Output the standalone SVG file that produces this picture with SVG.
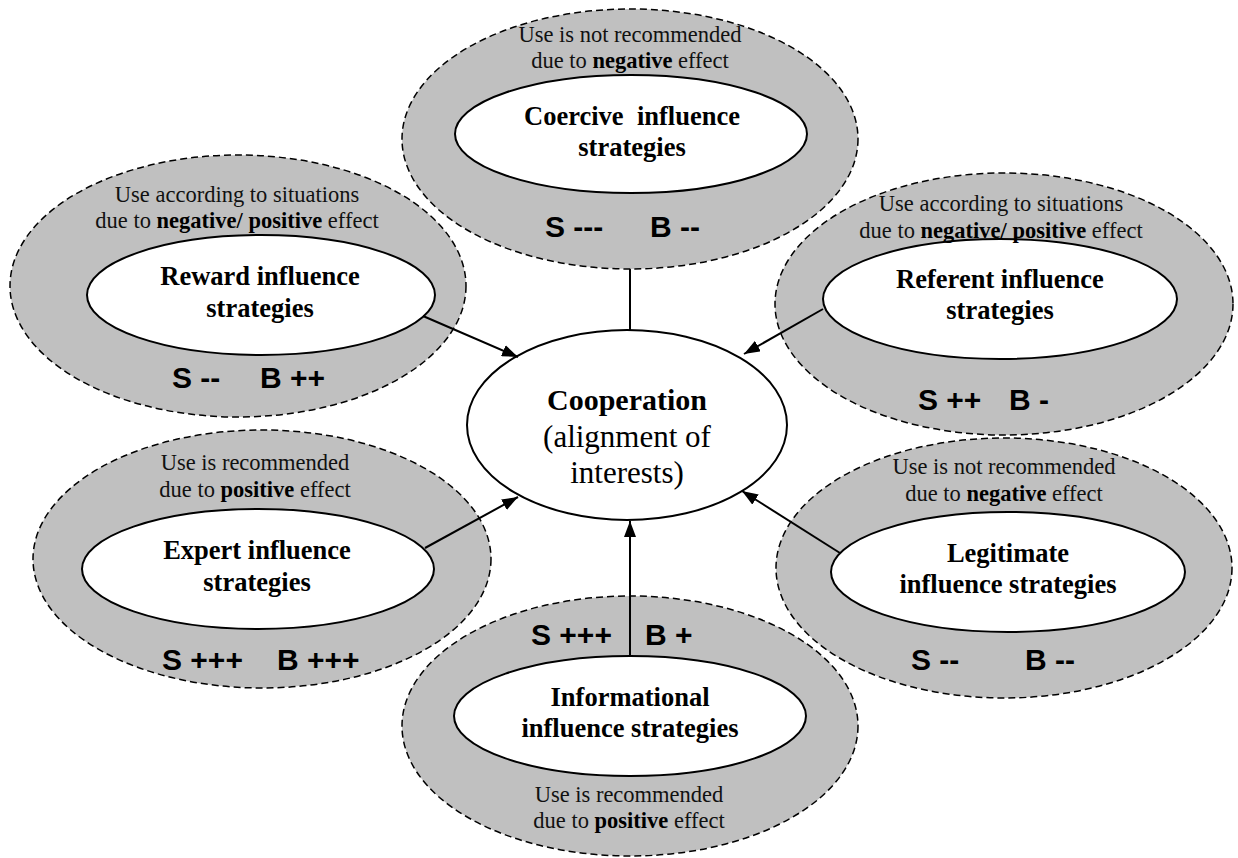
<svg xmlns="http://www.w3.org/2000/svg" width="1238" height="858" viewBox="0 0 1238 858">
  <style>
    .halo { fill: #c0c0c0; stroke: #000; stroke-width: 1.5; stroke-dasharray: 7 4; }
    .core { fill: #fff; stroke: #000; stroke-width: 2; }
    .note { font-family: "Liberation Serif", "Times New Roman", serif; font-size: 22.5px; fill: #111; text-anchor: middle; }
    .note .b { font-weight: bold; fill: #000; }
    .title { font-family: "Liberation Serif", "Times New Roman", serif; font-size: 26.5px; font-weight: bold; fill: #000; text-anchor: middle; }
    .score { font-family: "Liberation Sans", Arial, sans-serif; font-size: 30px; font-weight: bold; fill: #000; }
    .center-b { font-family: "Liberation Serif", "Times New Roman", serif; font-size: 30px; font-weight: bold; fill: #000; text-anchor: middle; }
    .center-r { font-family: "Liberation Serif", "Times New Roman", serif; font-size: 31px; fill: #000; text-anchor: middle; }
    .link { stroke: #000; stroke-width: 2; fill: none; }
  </style>
  <defs>
    <marker id="head" viewBox="0 0 16 12" refX="16" refY="6" markerWidth="16" markerHeight="12" markerUnits="userSpaceOnUse" orient="auto">
      <path d="M0,0 L16,6 L0,12 z" fill="#000"/>
    </marker>
  </defs>

  <rect width="1238" height="858" fill="#fff"/>

  <!-- Coercive -->
  <g id="coercive">
    <ellipse class="halo" cx="630" cy="139" rx="228" ry="130"/>
    <ellipse class="core" cx="631" cy="134" rx="176" ry="59"/>
    <text class="note" x="630" y="42">Use is not recommended</text>
    <text class="note" x="630" y="68">due to <tspan class="b">negative</tspan> effect</text>
    <text class="title" x="632" y="125" xml:space="preserve">Coercive  influence</text>
    <text class="title" x="632" y="156">strategies</text>
    <text class="score" y="237"><tspan x="545">S ---</tspan><tspan x="650">B --</tspan></text>
  </g>

  <!-- Reward -->
  <g id="reward">
    <ellipse class="halo" cx="238" cy="286" rx="228" ry="131"/>
    <ellipse class="core" cx="261" cy="295" rx="174" ry="60"/>
    <text class="note" x="237" y="202">Use according to situations</text>
    <text class="note" x="237" y="228">due to <tspan class="b">negative/ positive</tspan> effect</text>
    <text class="title" x="260" y="285">Reward influence</text>
    <text class="title" x="260" y="317">strategies</text>
    <text class="score" y="388"><tspan x="172">S --</tspan><tspan x="260">B ++</tspan></text>
  </g>

  <!-- Referent -->
  <g id="referent">
    <ellipse class="halo" cx="1004" cy="304" rx="229" ry="131"/>
    <ellipse class="core" cx="1000" cy="299" rx="177" ry="60"/>
    <text class="note" x="1001" y="211">Use according to situations</text>
    <text class="note" x="1001" y="238">due to <tspan class="b">negative/ positive</tspan> effect</text>
    <text class="title" x="1000" y="288">Referent influence</text>
    <text class="title" x="1000" y="319">strategies</text>
    <text class="score" y="410"><tspan x="918">S ++</tspan><tspan x="1009">B -</tspan></text>
  </g>

  <!-- Expert -->
  <g id="expert">
    <ellipse class="halo" cx="262" cy="559" rx="229" ry="129"/>
    <ellipse class="core" cx="258" cy="569" rx="176" ry="60"/>
    <text class="note" x="255" y="470">Use is recommended</text>
    <text class="note" x="255" y="497">due to <tspan class="b">positive</tspan> effect</text>
    <text class="title" x="257" y="559">Expert influence</text>
    <text class="title" x="257" y="591">strategies</text>
    <text class="score" y="670"><tspan x="162">S +++</tspan><tspan x="277">B +++</tspan></text>
  </g>

  <!-- Legitimate -->
  <g id="legitimate">
    <ellipse class="halo" cx="1004" cy="568" rx="228" ry="130"/>
    <ellipse class="core" cx="1008" cy="572" rx="177" ry="60"/>
    <text class="note" x="1004" y="474">Use is not recommended</text>
    <text class="note" x="1004" y="501">due to <tspan class="b">negative</tspan> effect</text>
    <text class="title" x="1008" y="562">Legitimate</text>
    <text class="title" x="1008" y="593">influence strategies</text>
    <text class="score" y="670"><tspan x="911">S --</tspan><tspan x="1025">B --</tspan></text>
  </g>

  <!-- Informational -->
  <g id="informational">
    <ellipse class="halo" cx="630" cy="726" rx="228" ry="130"/>
    <ellipse class="core" cx="630" cy="716" rx="176" ry="60"/>
    <text class="title" x="630" y="706">Informational</text>
    <text class="title" x="630" y="737">influence strategies</text>
    <text class="note" x="629" y="802">Use is recommended</text>
    <text class="note" x="629" y="828">due to <tspan class="b">positive</tspan> effect</text>
    <text class="score" y="645"><tspan x="531">S +++</tspan><tspan x="645">B +</tspan></text>
  </g>

  <!-- Cooperation -->
  <g id="cooperation">
    <ellipse class="core" cx="627" cy="425" rx="160" ry="95"/>
    <text class="center-b" x="627" y="410">Cooperation</text>
    <text class="center-r" x="627" y="447">(alignment of</text>
    <text class="center-r" x="627" y="483">interests)</text>
  </g>

  <!-- Connectors -->
  <g id="connectors">
    <line class="link" x1="630" y1="269" x2="630" y2="330"/>
    <line class="link" x1="423" y1="316" x2="518" y2="357" marker-end="url(#head)"/>
    <line class="link" x1="823" y1="309" x2="744" y2="354" marker-end="url(#head)"/>
    <line class="link" x1="425" y1="548" x2="518" y2="497" marker-end="url(#head)"/>
    <line class="link" x1="840" y1="553" x2="742" y2="491" marker-end="url(#head)"/>
    <line class="link" x1="630" y1="656" x2="630" y2="521" marker-end="url(#head)"/>
  </g>
</svg>
